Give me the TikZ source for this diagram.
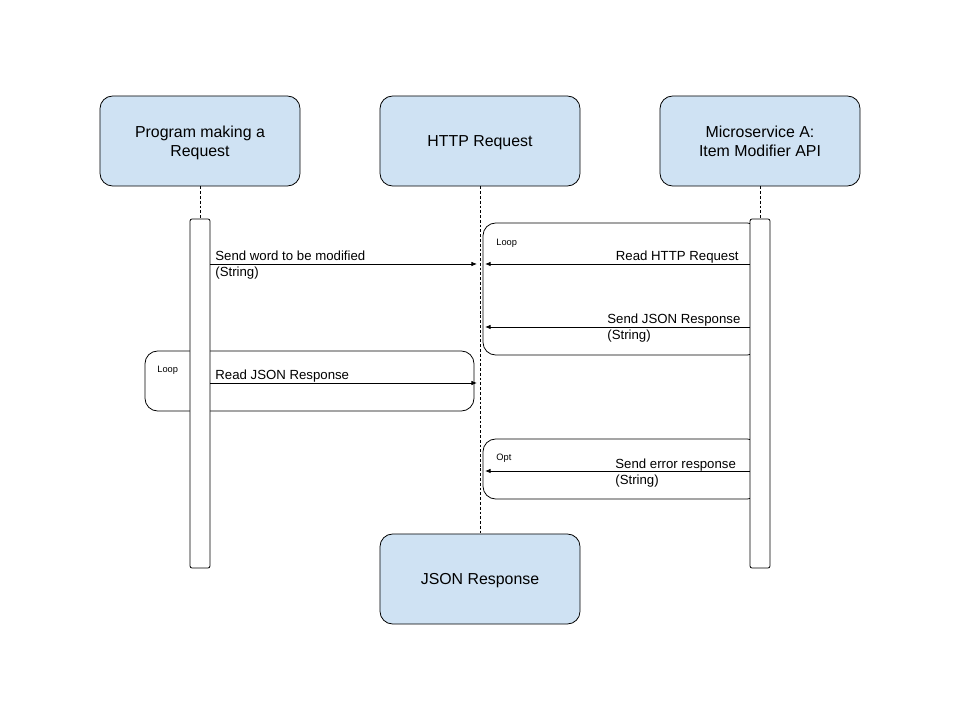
\documentclass[tikz,border=0pt]{standalone}
\usepackage{fontspec}
\setmainfont{Liberation Sans}
\usetikzlibrary{arrows.meta, positioning}
\definecolor{boxcol}{RGB}{207,226,243}

\begin{document}
\begin{tikzpicture}[
  x=0.025cm, y=-0.025cm, line width=0.55pt,
  actor/.style={draw, fill=boxcol, rounded corners=9pt, minimum width=5cm,
    minimum height=2.25cm, align=center, text depth=-1pt,
    font=\fontsize{11.3}{13.5}\selectfont},
  bar/.style={draw, fill=white, rounded corners=1.5pt, minimum width=0.5cm,
    minimum height=8.725cm, inner sep=0pt},
  frame/.style={rounded corners=9pt},
  life/.style={dash pattern=on 2pt off 1.4pt},
  msg/.style={-{Latex[length=4pt,width=3.2pt]}},
  lbl/.style={font=\fontsize{9.4}{11.3}\selectfont, align=left, inner sep=0pt},
  tag/.style={font=\fontsize{6.6}{8}\selectfont, inner sep=0pt, anchor=west}
]
  \useasboundingbox (0,0) rectangle (960,720);

  % participants
  \node[actor] (prog)  at (200,141) {Program making a\\Request};
  \node[actor] (http)  at (480,141) {HTTP Request};
  \node[actor] (micro) at (760,141) {Microservice A:\\Item Modifier API};
  \node[actor] (json)  at (480,579) {JSON Response};

  % fragments
  \draw[frame] (483,223) rectangle (760,355);
  \draw[frame] (145,351) rectangle (474,411);
  \draw[frame] (483,439) rectangle (760,499);
  \node[tag] (loopa) at (496,243) {Loop};
  \node[tag] (loopb) at (157,370) {Loop};
  \node[tag] (opt)   at (496,458) {Opt};

  % activation bars
  \node[bar] (pbar) at (200,393.5) {};
  \node[bar] (mbar) at (760,393.5) {};

  % lifelines
  \draw[life] (prog) -- (pbar);
  \draw[life] (http) -- (json);
  \draw[life] (micro) -- (mbar);

  % message ends
  \coordinate (send)  at (477,264);
  \coordinate (readh) at (485,264);
  \coordinate (resp)  at (485,327);
  \coordinate (readj) at (477,383);
  \coordinate (err)   at (485,471);

  \draw[msg] (pbar.east |- send)  -- (send);
  \draw[msg] (mbar.west |- readh) -- (readh);
  \draw[msg] (mbar.west |- resp)  -- (resp);
  \draw[msg] (pbar.east |- readj) -- (readj);
  \draw[msg] (mbar.west |- err)   -- (err);

  \node[lbl, anchor=west] (lsend) at (215,265)
    {Send word to be modified\\(String)};
  \node[lbl, anchor=base east] (lreadh) at (739,260.5) {Read HTTP Request};
  \node[lbl, anchor=west] (lresp) at (607,328)
    {Send JSON Response\\(String)};
  \node[lbl, anchor=base west] (lreadj) at (215,380) {Read JSON Response};
  \node[lbl, anchor=west] (lerr) at (615,473)
    {Send error response\\(String)};

\end{tikzpicture}
\end{document}
